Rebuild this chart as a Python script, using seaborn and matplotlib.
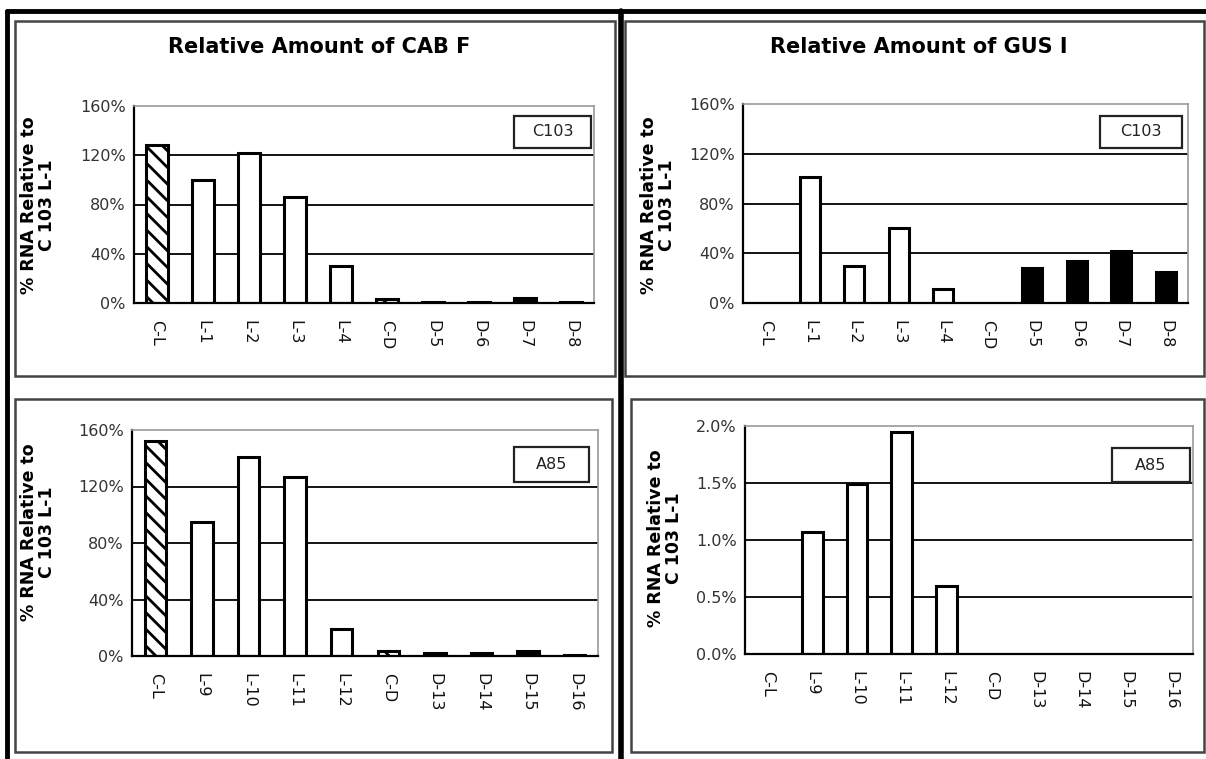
import matplotlib
matplotlib.use("Agg")
import matplotlib.pyplot as plt
import matplotlib.patches as mpatches
from matplotlib.lines import Line2D
import seaborn as sns
import pandas as pd

# dados
cats_c103 = ["C-L", "L-1", "L-2", "L-3", "L-4", "C-D", "D-5", "D-6", "D-7", "D-8"]
cats_a85 = ["C-L", "L-9", "L-10", "L-11", "L-12", "C-D", "D-13", "D-14", "D-15", "D-16"]
bar_kind = ["hatch", "white", "white", "white", "white", "hatch", "black", "black", "black", "black"]

cab_c103 = [128, 100, 122, 86, 30, 3, 1, 1, 4, 1]
gus_c103 = [0, 101, 30, 60, 11, 0, 28, 34, 42, 25]
cab_a85 = [152, 95, 141, 127, 19, 3.5, 2, 2, 3.5, 1]
gus_a85 = [0, 1.07, 1.49, 1.95, 0.6, 0, 0, 0, 0, 0]

cab_ticks = [0, 40, 80, 120, 160]
cab_ticklabels = ["0%", "40%", "80%", "120%", "160%"]
gus_a85_ticks = [0, 0.5, 1.0, 1.5, 2.0]
gus_a85_ticklabels = ["0.0%", "0.5%", "1.0%", "1.5%", "2.0%"]

titles = ["Relative Amount of CAB F", "Relative Amount of GUS I"]
ylabel_txt = "% RNA Relative to\nC 103 L-1"

sns.set_style("white")
plt.rcParams["font.family"] = ["DejaVu Sans"]
plt.rcParams["hatch.linewidth"] = 2.0
plt.rcParams["text.color"] = "black"

W, H = 1206, 759
fig = plt.figure(figsize=(W / 100, H / 100), dpi=100)


def fx(x):
    return x / W


def fy(y):
    return 1 - y / H


def eixo(x0, y0, x1, y1):
    return fig.add_axes([fx(x0), fy(y1), fx(x1) - fx(x0), fy(y0) - fy(y1)])


def caixa(x0, y0, x1, y1, lw=1.8, cor="#444444"):
    r = mpatches.Rectangle((fx(x0), fy(y1)), fx(x1) - fx(x0), fy(y0) - fy(y1),
                           transform=fig.transFigure, fill=False, lw=lw, ec=cor)
    fig.add_artist(r)


def grafico(ax, cats, vals, ticks, ticklabels):
    df = pd.DataFrame({"cat": cats, "val": vals})
    sns.barplot(data=df, x="cat", y="val", order=cats, color="white",
                edgecolor="black", linewidth=2.2, width=0.46, ax=ax, saturation=1)
    for p, kind, v in zip(ax.patches, bar_kind, vals):
        if kind == "black":
            p.set_facecolor("black")
        elif kind == "hatch":
            p.set_facecolor("white")
            p.set_hatch("\\\\")
        if v == 0:
            p.set_linewidth(0)
    ax.set_xlim(-0.5, len(cats) - 0.5)
    ax.set_ylim(ticks[0], ticks[-1])
    ax.set_yticks(ticks)
    ax.set_yticklabels(ticklabels)
    for t in ticks[1:-1]:
        ax.axhline(t, color="black", lw=1.3, zorder=0)
    ax.set_xticks(range(len(cats)))
    ax.set_xticklabels(cats, rotation=-90)
    ax.set_xticks([i - 0.5 for i in range(len(cats) + 1)], minor=True)
    ax.tick_params(axis="x", which="major", length=0, pad=12, labelsize=11.5, colors="#111111")
    ax.tick_params(axis="x", which="minor", length=6, width=1.3, color="black", direction="out")
    ax.tick_params(axis="y", length=5, width=1.3, color="black", direction="out",
                   labelsize=11.5, labelcolor="#333333", pad=1)
    ax.set_xlabel("")
    ax.set_ylabel("")
    for s in ["left", "bottom"]:
        ax.spines[s].set_color("black")
        ax.spines[s].set_linewidth(1.6)
    for s in ["top", "right"]:
        ax.spines[s].set_color("#999999")
        ax.spines[s].set_linewidth(1.2)


# molduras
fig.add_artist(Line2D([fx(7), fx(1206)], [fy(11), fy(11)], transform=fig.transFigure, color="black", lw=3.5))
fig.add_artist(Line2D([fx(7), fx(7)], [fy(11), fy(759)], transform=fig.transFigure, color="black", lw=3.5))
fig.add_artist(Line2D([fx(621), fx(621)], [fy(11), fy(759)], transform=fig.transFigure, color="black", lw=4))
caixa(15, 21, 615, 376)
caixa(625, 21, 1204, 376)
caixa(15, 399, 612, 752)
caixa(631, 399, 1204, 752)

ax1 = eixo(134, 106, 594, 303)
grafico(ax1, cats_c103, cab_c103, cab_ticks, cab_ticklabels)
ax2 = eixo(743, 104, 1188, 303)
grafico(ax2, cats_c103, gus_c103, cab_ticks, cab_ticklabels)
ax3 = eixo(132, 430, 598, 656)
grafico(ax3, cats_a85, cab_a85, cab_ticks, cab_ticklabels)
ax4 = eixo(745, 426, 1193, 654)
grafico(ax4, cats_a85, gus_a85, gus_a85_ticks, gus_a85_ticklabels)

# títulos
fig.text(fx(319), fy(47), titles[0], ha="center", va="center", fontsize=15, fontweight="bold")
fig.text(fx(919), fy(47), titles[1], ha="center", va="center", fontsize=15, fontweight="bold")

# rótulos do eixo y
for x, y in [(38, 205), (658, 205), (38, 532), (665, 538)]:
    fig.text(fx(x), fy(y), ylabel_txt, rotation=90, ha="center", va="center",
             multialignment="center", fontsize=12.5, fontweight="bold", linespacing=1.0)

# caixas de legenda
for (x0, y0, x1, y1), txt in [((514, 116, 591, 148), "C103"), ((1100, 116, 1182, 148), "C103"),
                              ((514, 447, 589, 482), "A85"), ((1112, 448, 1190, 482), "A85")]:
    caixa(x0, y0, x1, y1, lw=1.6, cor="#222222")
    fig.text(fx((x0 + x1) / 2), fy((y0 + y1) / 2), txt, ha="center", va="center",
             fontsize=11.5, color="#222222")

fig.savefig("out.png", dpi=100)
